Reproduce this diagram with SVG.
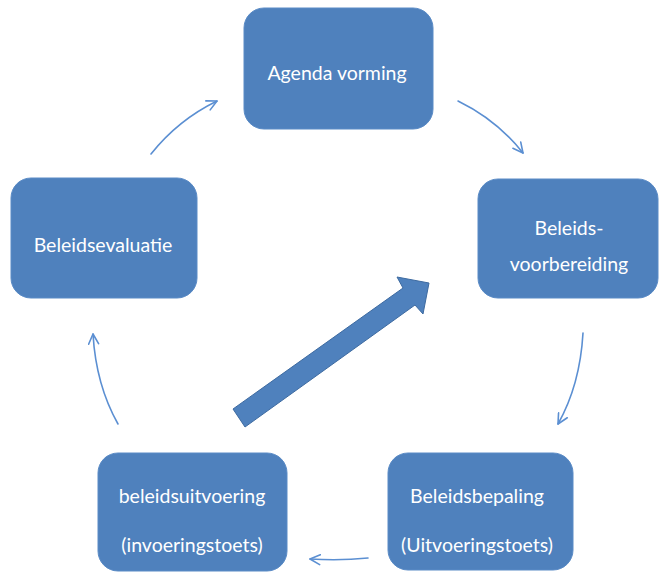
<svg xmlns="http://www.w3.org/2000/svg" width="659" height="574" viewBox="0 0 659 574">
<style>
.box{fill:#4f81bd;stroke:#5a8bc6;stroke-width:1}
.lbl{font-family:Lato,"Liberation Sans",sans-serif;font-size:19.5px;fill:#ffffff;text-anchor:middle}
.cv{fill:none;stroke:#5b8fd2;stroke-width:1.6;stroke-linecap:round;marker-end:url(#ah)}
</style>
<defs>
<marker id="ah" viewBox="0 0 12 12" refX="11" refY="6" markerWidth="12" markerHeight="12" markerUnits="userSpaceOnUse" orient="auto">
<path d="M1,1 L11,6 L1,11" fill="none" stroke="#5b8fd2" stroke-width="1.6" stroke-linecap="round" stroke-linejoin="round"/>
</marker>
</defs>
<rect width="659" height="574" fill="#ffffff"/>
<g id="connectors">
<path class="cv" d="M151,154 Q178,120 217,101"/>
<path class="cv" d="M458,101 Q497,120 523,153"/>
<path class="cv" d="M583,333 Q580,385 558,424"/>
<path class="cv" d="M368,558 Q340,561 310,559"/>
<path class="cv" d="M118,424 Q96,385 93,334"/>
<path id="bigarrow" d="M233,409 L403,288 L397,277 L429,283 L423,314 L415,305 L245,427 Z" fill="#4f81bd" stroke="#3d6aa0" stroke-width="1"/>
</g>
<g id="agenda">
<rect class="box" x="244" y="8" width="189" height="121" rx="20"/>
<text class="lbl" x="337" y="80">Agenda vorming</text>
</g>
<g id="voorbereiding">
<rect class="box" x="478" y="179" width="180" height="119" rx="20"/>
<text class="lbl" x="569" y="235">Beleids-</text>
<text class="lbl" x="569" y="271">voorbereiding</text>
</g>
<g id="bepaling">
<rect class="box" x="388" y="453" width="185" height="117" rx="20"/>
<text class="lbl" x="477" y="503">Beleidsbepaling</text>
<text class="lbl" x="477" y="552">(Uitvoeringstoets)</text>
</g>
<g id="uitvoering">
<rect class="box" x="98" y="453" width="189" height="118" rx="20"/>
<text class="lbl" x="192" y="503">beleidsuitvoering</text>
<text class="lbl" x="192" y="552">(invoeringstoets)</text>
</g>
<g id="evaluatie">
<rect class="box" x="11" y="178" width="186" height="120" rx="20"/>
<text class="lbl" x="103" y="252">Beleidsevaluatie</text>
</g>
</svg>
